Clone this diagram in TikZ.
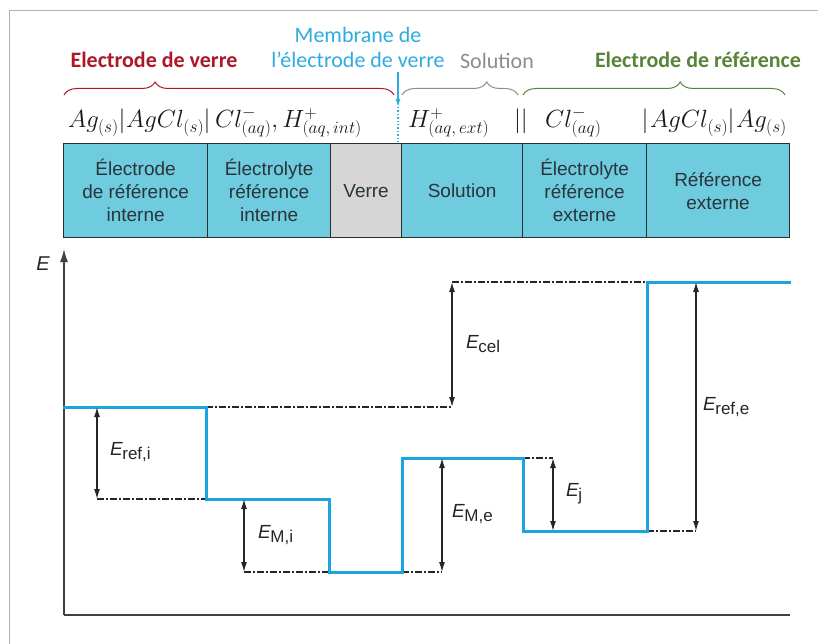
\documentclass[tikz,border=0pt]{standalone}
\usepackage{fontspec}
\setmainfont{Liberation Sans}
\newfontfamily\calibri{Carlito}
\usetikzlibrary{decorations.pathreplacing,arrows.meta}
\definecolor{boxcyan}{RGB}{110,204,222}
\definecolor{boxgray}{RGB}{214,214,214}
\definecolor{stepcyan}{RGB}{27,163,226}
\definecolor{redtxt}{RGB}{172,24,40}
\definecolor{greentxt}{RGB}{88,132,56}
\definecolor{membcyan}{RGB}{45,172,226}
\definecolor{soltxt}{RGB}{140,140,140}
\definecolor{boxtxt}{RGB}{42,52,58}
\definecolor{outl}{RGB}{45,45,45}
\newcommand\En[1]{{\fontsize{19}{19}\selectfont\itshape E}\kern-0.5pt{\fontsize{17}{17}\selectfont\raisebox{-4pt}{#1}}}
\tikzset{
  cell/.style={draw=outl, line width=1.2pt, anchor=north west, inner sep=0pt,
    minimum height=94pt, align=center, text=boxtxt, font=\fontsize{19}{23}\selectfont},
  head/.style={font=\calibri\fontsize{22}{25}\selectfont, inner sep=0pt, align=center},
  chem/.style={anchor=base west, inner sep=0pt, text=black!90, font=\fontsize{24}{24}\selectfont},
  chemc/.style={anchor=base, inner sep=0pt, text=black!90, font=\fontsize{24}{24}\selectfont},
  bracestyle/.style={decorate, line width=1pt},
  level/.style={draw=stepcyan, line width=3pt, line join=miter, line cap=rect},
  guide/.style={draw=black!85, line width=1.1pt, dash pattern=on 7pt off 2pt on 2pt off 2pt},
  dim/.style={draw=black!85, line width=1.2pt, {Latex[length=10pt,width=6pt]}-{Latex[length=10pt,width=6pt]}},
  elab/.style={anchor=west, inner sep=0pt, text=black!85},
}
\begin{document}
\begin{tikzpicture}[x=1pt,y=-1pt]
\useasboundingbox (0,0) rectangle (818,644);
% frame
\draw[gray!60, line width=1pt] (9,644) -- (9,11) -- (818,11);

% header labels
\node[head, text=redtxt, font=\calibri\bfseries\fontsize{22}{25}\selectfont] (hverre) at (154,60) {Electrode de verre};
\node[head, text=membcyan] (hmemb) at (358,47.5) {Membrane de\\l’électrode de verre};
\node[head, text=soltxt] (hsol) at (497,61) {Solution};
\node[head, text=greentxt, font=\calibri\bfseries\fontsize{22}{25}\selectfont] (href) at (698,60) {Electrode de référence};

% braces
\coordinate (b1a) at (64,95); \coordinate (b1b) at (394,95);
\coordinate (b2a) at (402,95); \coordinate (b2b) at (518,95);
\coordinate (b3a) at (523,95); \coordinate (b3b) at (785,95);
\draw[bracestyle, redtxt, decoration={brace, amplitude=13pt, aspect=0.276}] (b1a) -- (b1b);
\draw[bracestyle, soltxt, decoration={brace, amplitude=13pt, aspect=0.73}] (b2a) -- (b2b);
\draw[bracestyle, greentxt, decoration={brace, amplitude=13pt, aspect=0.60}] (b3a) -- (b3b);

% membrane arrow
\coordinate (ma) at (398,72); \coordinate (mb) at (398,107); \coordinate (mc) at (398,142);
\draw[membcyan, line width=1.2pt, -{Latex[length=8pt,width=5pt]}] (ma) -- (mb);
\draw[membcyan, line width=1.4pt, dotted] (mb) -- (mc);

% chemical formula
\node[chem] (f1) at (68,128) {$Ag_{(s)}$};
\node[chemc] (f2) at (122,128) {$|$};
\node[chem] (f3) at (126,128) {$AgCl_{(s)}$};
\node[chemc] (f4) at (207,128) {$|$};
\node[chem] (f5) at (215,128) {$Cl^-_{(aq)},H^+_{(aq,\,int)}$};
\node[chem] (f6) at (408,128) {$H^+_{(aq,\,ext)}$};
\node[chemc] (f7) at (521,128) {$||$};
\node[chem] (f8) at (545,128) {$Cl^-_{(aq)}$};
\node[chemc] (f9) at (645,128) {$|$};
\node[chem] (f10) at (650,128) {$AgCl_{(s)}$};
\node[chemc] (f11) at (731,128) {$|$};
\node[chem] (f12) at (736,128) {$Ag_{(s)}$};

% boxes
\node[cell, fill=boxcyan, minimum width=144pt] (c1) at (63,143) {Électrode\\de référence\\interne};
\node[cell, fill=boxcyan, minimum width=123pt] (c2) at (207,143) {Électrolyte\\référence\\interne};
\node[cell, fill=boxgray, minimum width=71pt] (c3) at (330,143) {Verre};
\node[cell, fill=boxcyan, minimum width=121pt] (c4) at (401,143) {Solution};
\node[cell, fill=boxcyan, minimum width=124pt] (c5) at (522,143) {Électrolyte\\référence\\externe};
\node[cell, fill=boxcyan, minimum width=143pt] (c6) at (646,143) {Référence\\externe};

% axes
\coordinate (O) at (64,615); \coordinate (ytop) at (64,249); \coordinate (xend) at (790,615);
\draw[black!75, line width=1.6pt, -{Latex[length=13pt,width=8pt]}] (O) -- (ytop);
\draw[black!75, line width=1.6pt] (O) -- (xend);
\node[font=\fontsize{20}{20}\selectfont\itshape, text=black!85] (Elab) at (43,264) {E};

% guide lines (dash-dot)
\draw[guide] (206,407) -- (452,407);
\draw[guide] (452,282) -- (647,282);
\draw[guide] (97,499) -- (206,499);
\draw[guide] (244,572) -- (402,572);
\draw[guide] (402,572) -- (442,572);
\draw[guide] (523,458) -- (553,458);
\draw[guide] (647,531) -- (696,531);

% staircase
\draw[level] (64,407) -- (206,407) -- (206,499) -- (329,499) -- (329,572) -- (402,572)
  -- (402,458) -- (523,458) -- (523,531) -- (647,531) -- (647,282) -- (789,282);

% dimension arrows
\coordinate (d1a) at (97,407); \coordinate (d1b) at (97,499);
\coordinate (d2a) at (244,499); \coordinate (d2b) at (244,572);
\coordinate (d3a) at (442,458); \coordinate (d3b) at (442,572);
\coordinate (d4a) at (553,458); \coordinate (d4b) at (553,531);
\coordinate (d5a) at (696,282); \coordinate (d5b) at (696,531);
\coordinate (d6a) at (452,282); \coordinate (d6b) at (452,407);
\draw[dim] (d1a) -- (d1b);
\draw[dim] (d2a) -- (d2b);
\draw[dim] (d3a) -- (d3b);
\draw[dim] (d4a) -- (d4b);
\draw[dim] (d5a) -- (d5b);
\draw[dim] (d6a) -- (d6b);

\node[elab] (lrefi) at (110,452) {\En{ref,i}};
\node[elab] (lMi) at (258,535) {\En{M,i}};
\node[elab] (lMe) at (452,514) {\En{M,e}};
\node[elab] (lj) at (566,494) {\En{j}};
\node[elab] (lrefe) at (703,407) {\En{ref,e}};
\node[elab] (lcel) at (466,344) {\En{cel}};
\end{tikzpicture}
\end{document}
